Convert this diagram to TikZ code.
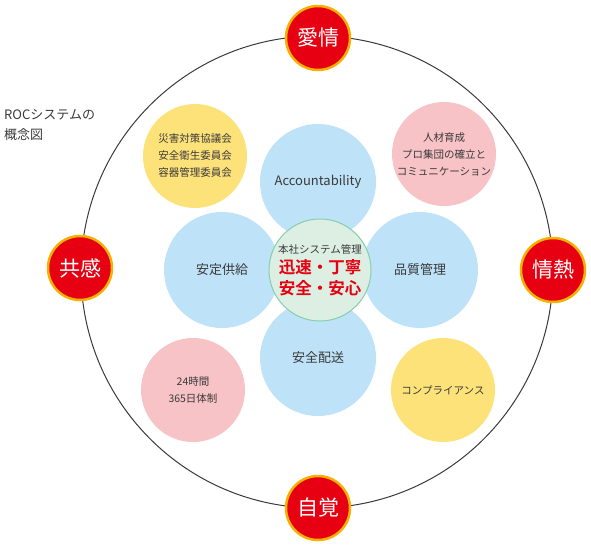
\documentclass[tikz,border=0pt]{standalone}
\usepackage{fontspec}
\setmainfont{Noto Sans CJK JP}
\newfontfamily\jpbold{Noto Sans CJK JP Bold}
\begin{document}
\begin{tikzpicture}[x=1pt,y=-1pt,
  redc/.style={circle,fill=myred,draw=myorange,line width=2.5pt,minimum size=64pt,inner sep=0pt,text=white,font=\fontsize{21}{24}\selectfont},
  bluec/.style={circle,fill=myblue,minimum size=116pt,inner sep=0pt,text=mytext,font=\fontsize{13}{16}\selectfont},
  yelc/.style={circle,fill=myyellow,minimum size=104pt,inner sep=0pt,text=mytext,align=center,font=\fontsize{10.5}{17}\selectfont},
  pinkc/.style={circle,fill=mypink,minimum size=104pt,inner sep=0pt,text=mytext,align=center,font=\fontsize{10.5}{17}\selectfont},
  centc/.style={circle,fill=mygreen,draw=mygborder,line width=1pt,minimum size=102pt,inner sep=0pt,align=center,font=\fontsize{16.5}{21}\selectfont}
]
\definecolor{myred}{HTML}{E60012}
\definecolor{myorange}{HTML}{F5B000}
\definecolor{myblue}{HTML}{BEE3F8}
\definecolor{myyellow}{HTML}{FDE27A}
\definecolor{mypink}{HTML}{F7C3C6}
\definecolor{mygreen}{HTML}{DCEFE2}
\definecolor{mygborder}{HTML}{86CDB0}
\definecolor{mytext}{HTML}{3A3A3A}
\useasboundingbox (0,0) rectangle (591,546);
\node[circle,minimum size=472pt,inner sep=0pt,draw=mytext,line width=1pt] (big) at (317,272) {};
% outer small circles
\node[yelc] (y1) at (195,156) {災害対策協議会\\安全衛生委員会\\容器管理委員会};
\node[pinkc] (p1) at (444,154) {人材育成\\プロ集団の確立と\\コミュニケーション};
\node[pinkc] (p2) at (193,390) {24時間\\365日体制};
\node[yelc] (y2) at (443,390) {コンプライアンス};
% blue circles
\node[bluec] (b1) at (318,182) {Accountability};
\node[bluec] (b2) at (222,270) {安定供給};
\node[bluec] (b3) at (420,270) {品質管理};
\node[bluec] (b4) at (318,358) {安全配送};
\node[centc] (c) at (320,270) {{\color{mytext}\fontsize{10.5}{13}\selectfont 本社システム管理}\\[-1pt]{\color{myred}\jpbold 迅速・丁寧}\\{\color{myred}\jpbold 安全・安心}};
% red circles
\node[redc] (r1) at (318,38) {愛情};
\node[redc] (r2) at (80,268) {共感};
\node[redc] (r3) at (553,270) {情熱};
\node[redc] (r4) at (318,508) {自覚};
\node[anchor=north west,align=left,text=mytext,font=\fontsize{13}{20}\selectfont,inner sep=0pt] (title) at (4,109) {ROCシステムの\\概念図};
\end{tikzpicture}
\end{document}
